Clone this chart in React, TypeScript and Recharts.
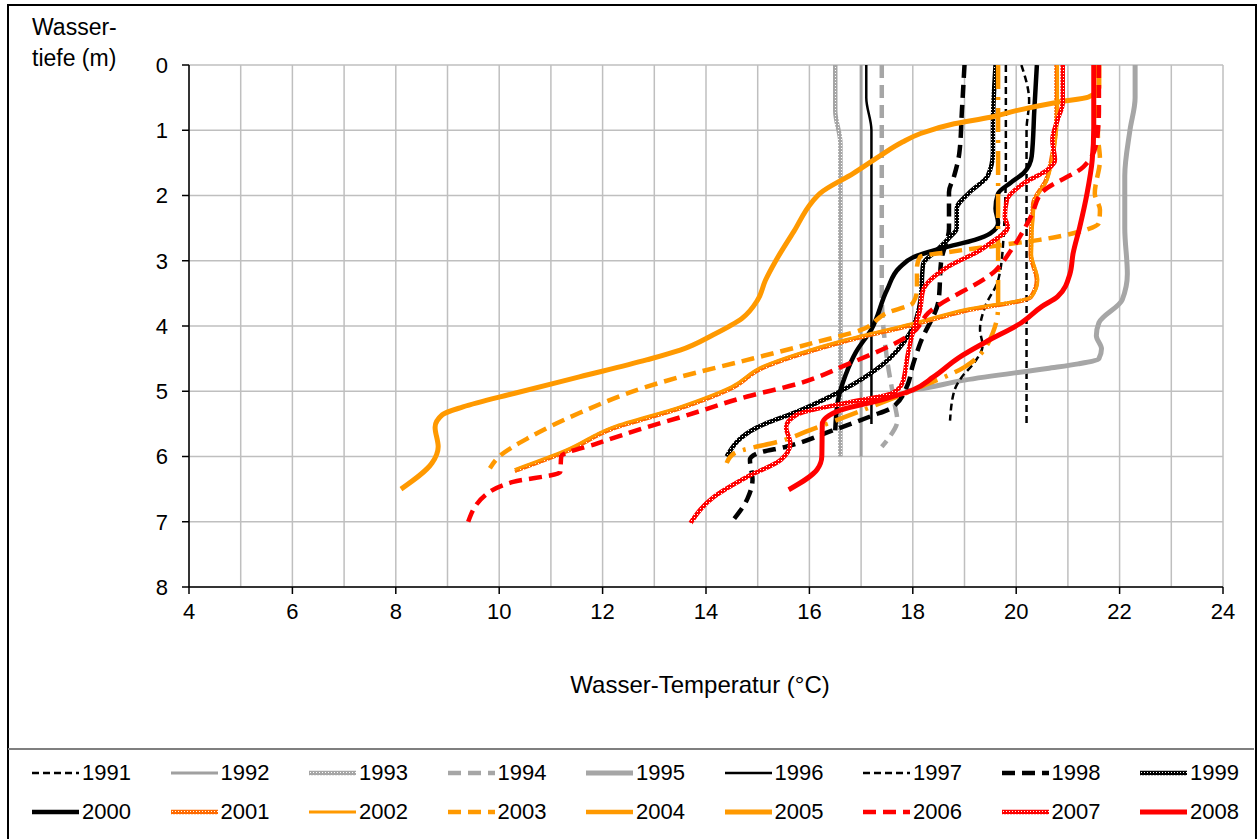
import React from 'react';
import { LineChart, Line, XAxis, YAxis, CartesianGrid } from 'recharts';

type Pt = { t: number; d: number };
const pts = (arr: number[][]): Pt[] => arr.map(([t, d]) => ({ t, d }));

// [temperature °C, depth m]
const y1991 = pts([[20.1, 0], [20.25, 0.55], [20.2, 1.0], [20.2, 5.5]]);
const y1992 = pts([[17.0, 0], [17.0, 6.0]]);
const y1993 = pts([[16.5, 0], [16.5, 0.7], [16.6, 1.2], [16.6, 6.0]]);
const y1994 = pts([[17.4, 0], [17.4, 3.5], [17.5, 4.5], [17.65, 5.2], [17.7, 5.45], [17.55, 5.7], [17.4, 5.85]]);
const y1995 = pts([[22.3, 0], [22.3, 0.5], [22.2, 1.0], [22.1, 1.7], [22.1, 2.5], [22.15, 3.2], [22.05, 3.6], [21.6, 3.95], [21.55, 4.15], [21.65, 4.35], [21.6, 4.5], [21.2, 4.58], [20.6, 4.65], [19.0, 4.83], [18.1, 4.97], [17.85, 5.0]]);
const y1996 = pts([[17.1, 0], [17.1, 0.5], [17.2, 1.0], [17.2, 5.5]]);
const y1997 = pts([[19.8, 0], [19.8, 1.5], [19.75, 2.7], [19.65, 3.3], [19.4, 3.7], [19.3, 4.05], [19.35, 4.3], [19.2, 4.55], [18.95, 4.78], [18.8, 5.0], [18.72, 5.45]]);
const y1998 = pts([[19.0, 0], [18.95, 0.7], [18.9, 1.35], [18.8, 1.7], [18.7, 1.95], [18.7, 2.5], [18.55, 3.0], [18.5, 3.6], [18.15, 4.25], [18.0, 4.6], [17.9, 4.9], [17.6, 5.25], [17.2, 5.38], [16.45, 5.6], [15.55, 5.85], [15.0, 5.95], [14.85, 6.05], [14.9, 6.35], [14.8, 6.65], [14.5, 7.0]]);
const y1999 = pts([[19.6, 0], [19.55, 0.95], [19.55, 1.35], [19.45, 1.7], [19.1, 1.95], [18.85, 2.2], [18.85, 2.5], [18.7, 2.65], [18.45, 2.85], [18.2, 3.05], [18.15, 3.6], [17.95, 4.1], [17.4, 4.6], [16.6, 5.0], [15.8, 5.3], [15.0, 5.55], [14.4, 6.0]]);
const y2000 = pts([[20.4, 0], [20.35, 0.7], [20.3, 1.4], [20.15, 1.65], [19.9, 1.8], [19.65, 1.97], [19.6, 2.2], [19.65, 2.42], [19.5, 2.58], [19.2, 2.68], [18.6, 2.8], [18.0, 2.95], [17.75, 3.1], [17.5, 3.45], [17.2, 4.05], [16.9, 4.4], [16.7, 4.75], [16.55, 5.15], [16.5, 5.6]]);
const y2001 = pts([[20.78, 0], [20.78, 0.7], [20.68, 1.45], [20.58, 1.76], [20.33, 2.12], [20.28, 2.9], [20.4, 3.3], [20.28, 3.56], [19.0, 3.77], [18.0, 3.98], [16.7, 4.23], [15.8, 4.44], [15.1, 4.64], [14.5, 4.95], [13.5, 5.26], [12.2, 5.57], [11.3, 5.92], [10.3, 6.22]]);
const y2002 = pts([[20.8, 0], [20.8, 0.7], [20.7, 1.45], [20.6, 1.76], [20.35, 2.12], [20.3, 2.9], [20.42, 3.3], [20.3, 3.55], [19.0, 3.75], [18.0, 3.96], [16.7, 4.21], [15.8, 4.42], [15.1, 4.62], [14.5, 4.93], [13.5, 5.24], [12.2, 5.55], [11.3, 5.9], [10.3, 6.2]]);
const y2003 = pts([[21.55, 0], [21.58, 0.65], [21.58, 1.05], [21.62, 1.45], [21.52, 1.97], [21.62, 2.22], [21.6, 2.42], [21.2, 2.56], [20.45, 2.68], [19.5, 2.78], [18.66, 2.87], [18.14, 2.94], [18.08, 3.1], [18.08, 3.45], [18.0, 3.65], [17.5, 3.8], [17.0, 4.06], [16.07, 4.26], [14.8, 4.52], [13.5, 4.78], [12.86, 4.93], [11.56, 5.33], [10.6, 5.7], [10.0, 6.0], [9.82, 6.18]]);
const y2004 = pts([[19.65, 0], [19.65, 3.0], [19.65, 3.7], [19.55, 4.1], [19.0, 4.63], [18.1, 4.95], [17.0, 5.3], [16.0, 5.6], [15.5, 5.75], [14.55, 5.95], [14.4, 6.1]]);
const y2005 = pts([[21.6, 0], [21.6, 0.35], [21.4, 0.49], [20.8, 0.57], [20.0, 0.7], [19.5, 0.8], [18.8, 0.9], [18.15, 1.05], [17.8, 1.18], [17.35, 1.4], [16.85, 1.66], [16.2, 1.97], [16.05, 2.1], [15.7, 2.55], [15.35, 3.0], [15.15, 3.3], [15.0, 3.6], [14.7, 3.88], [14.15, 4.13], [13.5, 4.37], [12.85, 4.52], [11.55, 4.78], [10.3, 5.03], [9.3, 5.24], [8.9, 5.36], [8.76, 5.55], [8.82, 5.85], [8.7, 6.1], [8.1, 6.5]]);
const y2006 = pts([[21.6, 0], [21.6, 0.7], [21.55, 1.2], [21.3, 1.56], [20.5, 1.95], [20.3, 2.3], [19.9, 2.84], [19.6, 3.15], [18.3, 3.8], [18.0, 4.1], [16.7, 4.6], [15.8, 4.88], [14.8, 5.08], [13.5, 5.4], [12.86, 5.55], [11.9, 5.8], [11.2, 6.0], [11.18, 6.24], [10.27, 6.39], [9.82, 6.54], [9.4, 7.0]]);
const y2007 = pts([[20.9, 0], [20.9, 0.58], [20.8, 0.84], [20.7, 1.15], [20.75, 1.46], [20.6, 1.61], [20.15, 1.81], [19.82, 2.07], [19.78, 2.33], [19.84, 2.48], [19.5, 2.73], [19.3, 2.84], [18.66, 3.1], [18.2, 3.45], [18.14, 3.75], [18.0, 4.1], [17.9, 4.45], [17.8, 4.87], [17.6, 5.03], [16.7, 5.18], [15.75, 5.36], [15.55, 5.55], [15.63, 5.8], [15.45, 6.05], [14.8, 6.31], [14.15, 6.62], [13.7, 7.02]]);
const y2008 = pts([[21.5, 0], [21.5, 0.95], [21.47, 1.46], [21.37, 1.97], [21.23, 2.48], [21.1, 2.89], [21.04, 3.2], [20.8, 3.55], [20.5, 3.7], [20.1, 3.95], [19.4, 4.25], [18.9, 4.48], [18.4, 4.78], [18.0, 4.98], [17.4, 5.13], [16.6, 5.29], [16.25, 5.5], [16.24, 6.0], [16.15, 6.2], [15.6, 6.51]]);

const tempTicks = [4, 6, 8, 10, 12, 14, 16, 18, 20, 22, 24];
const tempGrid = [4, 5, 6, 7, 8, 9, 10, 11, 12, 13, 14, 15, 16, 17, 18, 19, 20, 21, 22, 23, 24];
const depthTicks = [0, 1, 2, 3, 4, 5, 6, 7, 8];

const textures = [
  { id: 'tex1993', color: '#A6A6A6' },
  { id: 'tex1999', color: '#000000' },
  { id: 'tex2001', color: '#FF6A00' },
  { id: 'tex2007', color: '#FF0000' },
];

type S = { name: string; data: Pt[]; stroke: string; width: number; dash?: string; legendDash?: string };
const series: S[] = [
  { name: '1991', data: y1991, stroke: '#000', width: 2.5, dash: '7 4' },
  { name: '1992', data: y1992, stroke: '#A0A0A0', width: 3 },
  { name: '1993', data: y1993, stroke: 'url(#tex1993)', width: 4.5 },
  { name: '1994', data: y1994, stroke: '#A6A6A6', width: 4.5, dash: '13 7' },
  { name: '1995', data: y1995, stroke: '#A6A6A6', width: 5 },
  { name: '1996', data: y1996, stroke: '#000', width: 2.5 },
  { name: '1997', data: y1997, stroke: '#000', width: 2.5, dash: '7 4' },
  { name: '1998', data: y1998, stroke: '#000', width: 4.5, dash: '13 7' },
  { name: '1999', data: y1999, stroke: 'url(#tex1999)', width: 4.5 },
  { name: '2000', data: y2000, stroke: '#000', width: 4.5 },
  { name: '2001', data: y2001, stroke: 'url(#tex2001)', width: 4.5 },
  { name: '2002', data: y2002, stroke: '#FF9900', width: 3 },
  { name: '2003', data: y2003, stroke: '#FF9900', width: 4.5, dash: '13 7' },
  { name: '2004', data: y2004, stroke: '#FF9900', width: 4.5, dash: '24 8 3 8', legendDash: 'none' },
  { name: '2005', data: y2005, stroke: '#FF9900', width: 5 },
  { name: '2006', data: y2006, stroke: '#FF0000', width: 4.5, dash: '13 7' },
  { name: '2007', data: y2007, stroke: 'url(#tex2007)', width: 4.5 },
  { name: '2008', data: y2008, stroke: '#FF0000', width: 5 },
];

const font = '"Liberation Sans", Arial, sans-serif';

export default function App() {
  return (
    <div style={{ position: 'absolute', left: 0, top: 0, width: 1260, height: 839, overflow: 'hidden', background: '#fff', fontFamily: font }}>
      <svg width={0} height={0} style={{ position: 'absolute' }}>
        <defs>
          {textures.map((tx) => (
            <pattern key={tx.id} id={tx.id} width={3} height={3} patternUnits="userSpaceOnUse">
              <rect width={3} height={3} fill={tx.color} />
              <rect x={1} y={1} width={1} height={1} fill="#fff" />
            </pattern>
          ))}
        </defs>
      </svg>

      <div style={{ position: 'absolute', left: 7, top: 4, width: 1246, height: 860, border: '2px solid #000' }} />
      <div style={{ position: 'absolute', left: 8, top: 748, width: 1246, height: 0, borderTop: '2px solid #7f7f7f' }} />

      <div style={{ position: 'absolute', left: 32, top: 12, fontSize: 23, lineHeight: '31px', color: '#000' }}>
        Wasser-<br />tiefe (m)
      </div>

      <div style={{ position: 'absolute', left: 0, top: 0 }}>
        <LineChart width={1260} height={640} margin={{ top: 65, right: 37, bottom: 23, left: 129 }}>
          <CartesianGrid
            stroke="#BFBFBF"
            strokeWidth={1.5}
            verticalCoordinatesGenerator={({ offset }: any) =>
              tempGrid.map((v) => offset.left + ((v - 4) / 20) * offset.width)
            }
          />
          <XAxis
            type="number"
            dataKey="t"
            domain={[4, 24]}
            ticks={tempTicks}
            allowDataOverflow
            height={30}
            tickSize={7}
            tickMargin={9}
            tick={{ fontSize: 22, fill: '#000', fontFamily: font }}
            axisLine={{ stroke: '#000', strokeWidth: 1.5 }}
            tickLine={{ stroke: '#000', strokeWidth: 1.5 }}
          />
          <YAxis
            type="number"
            dataKey="d"
            domain={[0, 8]}
            ticks={depthTicks}
            reversed
            allowDataOverflow
            width={60}
            tickSize={7}
            tickMargin={14}
            tick={{ fontSize: 22, fill: '#000', fontFamily: font }}
            axisLine={{ stroke: '#000', strokeWidth: 1.5 }}
            tickLine={{ stroke: '#000', strokeWidth: 1.5 }}
          />
          {series.map((s) => (
            <Line
              key={s.name}
              data={s.data}
              dataKey="d"
              name={s.name}
              type="monotoneY"
              stroke={s.stroke}
              strokeWidth={s.width}
              strokeDasharray={s.dash}
              dot={false}
              activeDot={false}
              isAnimationActive={false}
            />
          ))}
        </LineChart>
      </div>

      <div style={{ position: 'absolute', left: 0, top: 671, width: 1400, textAlign: 'center', fontSize: 24, color: '#000' }}>
        Wasser-Temperatur (°C)
      </div>

      {series.map((s, i) => {
        const col = i % 9;
        const row = Math.floor(i / 9);
        const dash = s.legendDash === 'none' ? undefined : s.dash;
        return (
          <div
            key={s.name}
            style={{ position: 'absolute', left: 32 + col * 138.5, top: 760 + row * 39, height: 26, display: 'flex', alignItems: 'center', fontSize: 22, color: '#000' }}
          >
            <svg width={47} height={10} style={{ display: 'block' }}>
              <line x1={0} y1={5} x2={47} y2={5} stroke={s.stroke} strokeWidth={s.width} strokeDasharray={dash} />
            </svg>
            <span style={{ marginLeft: 3 }}>{s.name}</span>
          </div>
        );
      })}
    </div>
  );
}
